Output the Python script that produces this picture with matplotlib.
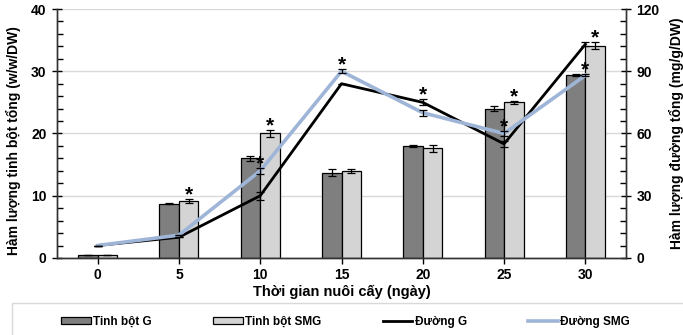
import numpy as np
import matplotlib.pyplot as plt
from matplotlib.ticker import MultipleLocator
from matplotlib.patches import Rectangle

plt.rcParams['font.family'] = ['Liberation Sans', 'DejaVu Sans']
plt.rcParams['font.weight'] = 'bold'
plt.rcParams['font.size'] = 10

# so ngay nuoi cay
days = ['0', '5', '10', '15', '20', '25', '30']

# tinh bot tong (truc trai)
starch_g = [0.4, 8.7, 16.0, 13.7, 18.0, 24.0, 29.4]
starch_g_err = [0.0, 0.1, 0.4, 0.6, 0.1, 0.4, 0.1]
starch_smg = [0.4, 9.1, 20.0, 14.0, 17.6, 25.0, 34.1]
starch_smg_err = [0.0, 0.3, 0.6, 0.3, 0.5, 0.2, 0.6]

# duong tong (truc phai)
sugar_g = [6, 10, 30, 84, 75, 55, 103]
sugar_g_err = [0, 0, 2.0, 0, 1.5, 1.5, 1.0]
sugar_smg = [6, 11, 42, 90, 70, 60, 88]
sugar_smg_err = [0, 0, 1.5, 1.0, 1.5, 1.0, 0.5]

# dau * (khac biet co y nghia)
star_bar = [1, 2, 5, 6]
star_line = [2, 3, 4, 5, 6]
star_line_ref = ['SMG', 'SMG', 'G', 'SMG', 'SMG']

x = np.arange(len(days))
w = 0.24

fig = plt.figure(figsize=(6.83, 3.35), dpi=100)
ax = fig.add_axes([0.0835, 0.23, 0.833, 0.743])
ax2 = ax.twinx()

ax.grid(axis='y', color='#d9d9d9', lw=1)
ax.set_axisbelow(True)
b1 = ax.bar(x - w/2, starch_g, w, color='#7f7f7f', edgecolor='black', lw=0.9,
            label='Tinh bột G')
b2 = ax.bar(x + w/2, starch_smg, w, color='#d4d4d4', edgecolor='black', lw=0.9,
            label='Tinh bột SMG')
ax.errorbar(x - w/2, starch_g, yerr=starch_g_err, fmt='none', ecolor='black',
            elinewidth=0.9, capsize=3, capthick=0.9)
ax.errorbar(x + w/2, starch_smg, yerr=starch_smg_err, fmt='none', ecolor='black',
            elinewidth=0.9, capsize=3, capthick=0.9)

l1, = ax2.plot(x, sugar_g, color='black', lw=2.0, label='Đường G', zorder=3)
l2, = ax2.plot(x, sugar_smg, color='#9fb5d8', lw=2.6, label='Đường SMG', zorder=4)
ax2.errorbar(x, sugar_g, yerr=sugar_g_err, fmt='none', ecolor='black',
             elinewidth=0.9, capsize=3, capthick=0.9, zorder=5)
ax2.errorbar(x, sugar_smg, yerr=sugar_smg_err, fmt='none', ecolor='black',
             elinewidth=0.9, capsize=3, capthick=0.9, zorder=5)

for i in star_bar:
    ax.annotate('*', (x[i] + w/2, starch_smg[i] + starch_smg_err[i]),
                xytext=(0, -1), textcoords='offset points', ha='center',
                va='baseline', fontsize=15, fontweight='bold')
for i, r in zip(star_line, star_line_ref):
    yv = sugar_smg[i] + sugar_smg_err[i] if r == 'SMG' else sugar_g[i] + sugar_g_err[i]
    ax2.annotate('*', (x[i], yv), xytext=(0, -1), textcoords='offset points',
                 ha='center', va='baseline', fontsize=15, fontweight='bold', zorder=6)

ax.set_xlim(-0.5, len(days) - 0.5)
ax.set_ylim(0, 40)
ax2.set_ylim(0, 120)
ax.set_xticks(x)
ax.set_xticklabels(days)
ax.yaxis.set_major_locator(MultipleLocator(10))
ax.yaxis.set_minor_locator(MultipleLocator(2))
ax2.yaxis.set_major_locator(MultipleLocator(30))
ax2.yaxis.set_minor_locator(MultipleLocator(6))

for a in (ax, ax2):
    a.spines['top'].set_visible(False)
    for s in ('left', 'right', 'bottom'):
        a.spines[s].set_color('#333333')
        a.spines[s].set_linewidth(1)
ax.tick_params(axis='y', which='major', direction='inout', length=7, width=1, pad=4)
ax.tick_params(axis='y', which='minor', direction='in', length=4, width=1)
ax2.tick_params(axis='y', which='major', direction='inout', length=7, width=1, pad=4)
ax2.tick_params(axis='y', which='minor', direction='in', length=4, width=1)
ax.tick_params(axis='x', direction='out', length=4, width=1, pad=3)

ax.set_xlabel('Thời gian nuôi cấy (ngày)', fontsize=10.5, fontweight='bold', labelpad=2)
ax.set_ylabel('Hàm lượng tinh bột tổng (w/w/DW)', fontsize=10, fontweight='bold')
ax2.set_ylabel('Hàm lượng đường tổng (mg/g/DW)', fontsize=10, fontweight='bold')
ax.yaxis.set_label_coords(-0.064, 0.47)
ax2.yaxis.set_label_coords(1.075, 0.5)

# khung chu thich
fig.patches.append(Rectangle((0.018, -0.01), 0.99, 0.105, transform=fig.transFigure,
                             facecolor='white', edgecolor='#d9d9d9', lw=1))
leg = fig.legend(handles=[b1, b2, l1, l2], ncol=4, loc='center left',
                 bbox_to_anchor=(0.083, 0.04), frameon=False,
                 handlelength=2.5, handleheight=0.6, handletextpad=0.2,
                 columnspacing=5.2, fontsize=8.5, borderaxespad=0)

fig.savefig('out.png', dpi=100)
